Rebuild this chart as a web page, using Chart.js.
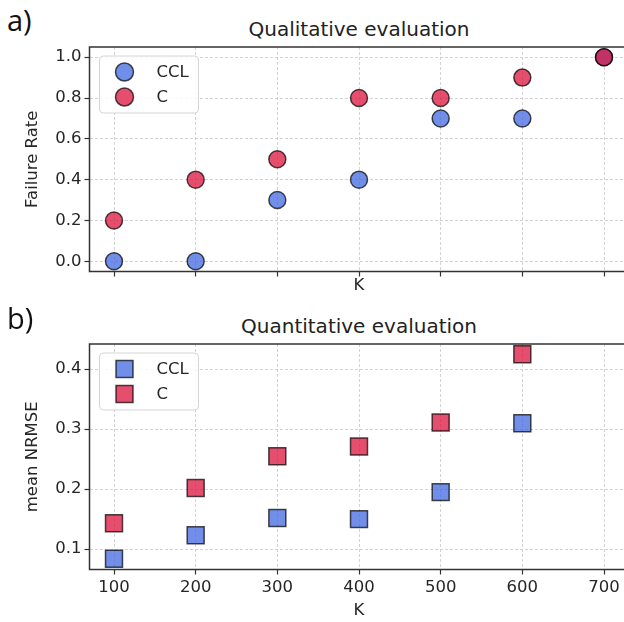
<!DOCTYPE html>
<html>
<head>
<meta charset="utf-8">
<script src="https://cdn.jsdelivr.net/npm/chart.js@4.4.1/dist/chart.umd.min.js"></script>
<style>
  html, body { margin: 0; padding: 0; background: #fff; overflow: hidden; }
  body { width: 624px; height: 622px; position: relative; }
  .panel { position: absolute; left: 0; }
  .panel canvas { display: block; }
  .tag { position: absolute; left: 7px; font-family: "Open Sans"; font-size: 29px; line-height: 29px; color: #111; }
  .ttl { position: absolute; left: 159px; width: 400px; text-align: center; font-family: "DejaVu Sans"; font-size: 20px; line-height: 20px; color: #222; }
</style>
</head>
<body>
<div class="tag" style="top:5px">a)</div>
<div class="ttl" style="top:19px">Qualitative evaluation</div>
<div class="panel" style="top:0"><canvas id="qual" width="660" height="300"></canvas></div>

<div class="tag" style="top:303px">b)</div>
<div class="ttl" style="top:316px">Quantitative evaluation</div>
<div class="panel" style="top:300px"><canvas id="quant" width="660" height="322"></canvas></div>

<script>
// panel a) failure rate
const kValues = [100, 200, 300, 400, 500, 600, 700];
const failCCL = [0.0, 0.0, 0.3, 0.4, 0.7, 0.7, 1.0];
const failC = [0.2, 0.4, 0.5, 0.8, 0.8, 0.9, 1.0];

// panel b) mean NRMSE
const kValuesB = [100, 200, 300, 400, 500, 600];
const nrmseCCL = [0.084, 0.123, 0.152, 0.150, 0.195, 0.310];
const nrmseC = [0.143, 0.202, 0.255, 0.271, 0.311, 0.425];

const kTicks = [100, 200, 300, 400, 500, 600, 700];
const failTicks = [0.0, 0.2, 0.4, 0.6, 0.8, 1.0];
const nrmseTicks = [0.1, 0.2, 0.3, 0.4];

const blue = "rgba(65, 105, 225, 0.75)";
const red = "rgba(220, 20, 60, 0.75)";
const edge = "rgba(0, 0, 0, 0.7)";
const textColor = "#262626";
const tickFont = { family: "DejaVu Sans", size: 16.5 };

Chart.defaults.font.family = "DejaVu Sans";
Chart.defaults.color = textColor;

function pts(xs, ys) {
  return xs.map((x, i) => ({ x: x, y: ys[i] }));
}

// axes frame + legend box, drawn on top like matplotlib
const frameLegend = {
  id: "frameLegend",
  afterDraw(chart) {
    const { ctx, chartArea: a } = chart;
    ctx.save();
    ctx.strokeStyle = "#333";
    ctx.lineWidth = 1.5;
    ctx.strokeRect(a.left, a.top, a.right - a.left, a.bottom - a.top);

    const bx = a.left + 10, by = a.top + 9;
    ctx.beginPath();
    ctx.roundRect(bx, by, 99, 57, 4);
    ctx.fillStyle = "rgba(255,255,255,0.85)";
    ctx.fill();
    ctx.strokeStyle = "#d4d4d4";
    ctx.lineWidth = 1;
    ctx.stroke();

    chart.data.datasets.forEach((ds, i) => {
      const cx = a.left + 35, cy = a.top + 25 + i * 25;
      ctx.beginPath();
      if (ds.pointStyle === "rect") {
        const s = ds.pointRadius * Math.SQRT1_2;
        ctx.rect(cx - s, cy - s, 2 * s, 2 * s);
      } else {
        ctx.arc(cx, cy, ds.pointRadius + 0.5, 0, Math.PI * 2);
      }
      ctx.fillStyle = ds.backgroundColor;
      ctx.fill();
      ctx.lineWidth = ds.borderWidth;
      ctx.strokeStyle = ds.borderColor;
      ctx.stroke();
      ctx.fillStyle = textColor;
      ctx.font = '16.5px "DejaVu Sans"';
      ctx.textAlign = "left";
      ctx.textBaseline = "middle";
      ctx.fillText(ds.label, a.left + 67, cy + 1);
    });
    ctx.restore();
  }
};

function makeChart(id, opts) {
  const ds = (label, data, color, order) => ({
    label: label,
    data: data,
    order: order,
    pointStyle: opts.style,
    pointRadius: opts.radius,
    pointHoverRadius: opts.radius,
    backgroundColor: color,
    pointBackgroundColor: color,
    borderColor: edge,
    pointBorderColor: edge,
    borderWidth: 1.5,
    pointBorderWidth: 1.5,
    showLine: false
  });
  const grid = {
    color: "#c8c8c8",
    lineWidth: 0.8,
    borderDash: [3, 2],
    tickColor: "#333",
    tickWidth: 1.2,
    tickLength: 5
  };
  return new Chart(document.getElementById(id), {
    type: "scatter",
    data: {
      datasets: [
        ds("CCL", opts.ccl, blue, 2),
        ds("C", opts.c, red, 1)
      ]
    },
    options: {
      responsive: false,
      animation: false,
      events: [],
      layout: { padding: { top: opts.top, left: 0, right: 31.5, bottom: 0 } },
      plugins: { legend: { display: false }, tooltip: { enabled: false } },
      scales: {
        x: {
          type: "linear",
          min: 70,
          max: 730,
          afterBuildTicks: (s) => { s.ticks = kTicks.map((v) => ({ value: v })); },
          afterFit: (s) => { s.height = opts.xHeight; },
          ticks: { display: opts.xLabels, font: tickFont, color: textColor, padding: 3, maxRotation: 0, callback: (v) => String(v) },
          grid: grid,
          border: { display: false, dash: [3, 2] },
          title: { display: true, text: "K", font: tickFont, color: textColor, padding: { top: 0, bottom: opts.kPad } }
        },
        y: {
          type: "linear",
          min: opts.yMin,
          max: opts.yMax,
          afterBuildTicks: (s) => { s.ticks = opts.yTicks.map((v) => ({ value: v })); },
          afterFit: (s) => { s.width = 89.5; },
          ticks: { font: tickFont, color: textColor, padding: 3, callback: (v) => v.toFixed(1) },
          grid: grid,
          border: { display: false, dash: [3, 2] },
          title: { display: true, text: opts.yTitle, font: tickFont, color: textColor, padding: { top: 23, bottom: 0 } }
        }
      }
    },
    plugins: [frameLegend]
  });
}

makeChart("qual", {
  style: "circle",
  radius: 8.5,
  ccl: pts(kValues, failCCL),
  c: pts(kValues, failC),
  top: 47,
  xHeight: 28.5,
  xLabels: false,
  kPad: 4.8,
  yMin: -0.05,
  yMax: 1.05,
  yTicks: failTicks,
  yTitle: "Failure Rate"
});

makeChart("quant", {
  style: "rect",
  radius: 12,
  ccl: pts(kValuesB, nrmseCCL),
  c: pts(kValuesB, nrmseC),
  top: 44,
  xHeight: 52.5,
  xLabels: true,
  kPad: 1.1,
  yMin: 0.066,
  yMax: 0.442,
  yTicks: nrmseTicks,
  yTitle: "mean NRMSE"
});
</script>
</body>
</html>
